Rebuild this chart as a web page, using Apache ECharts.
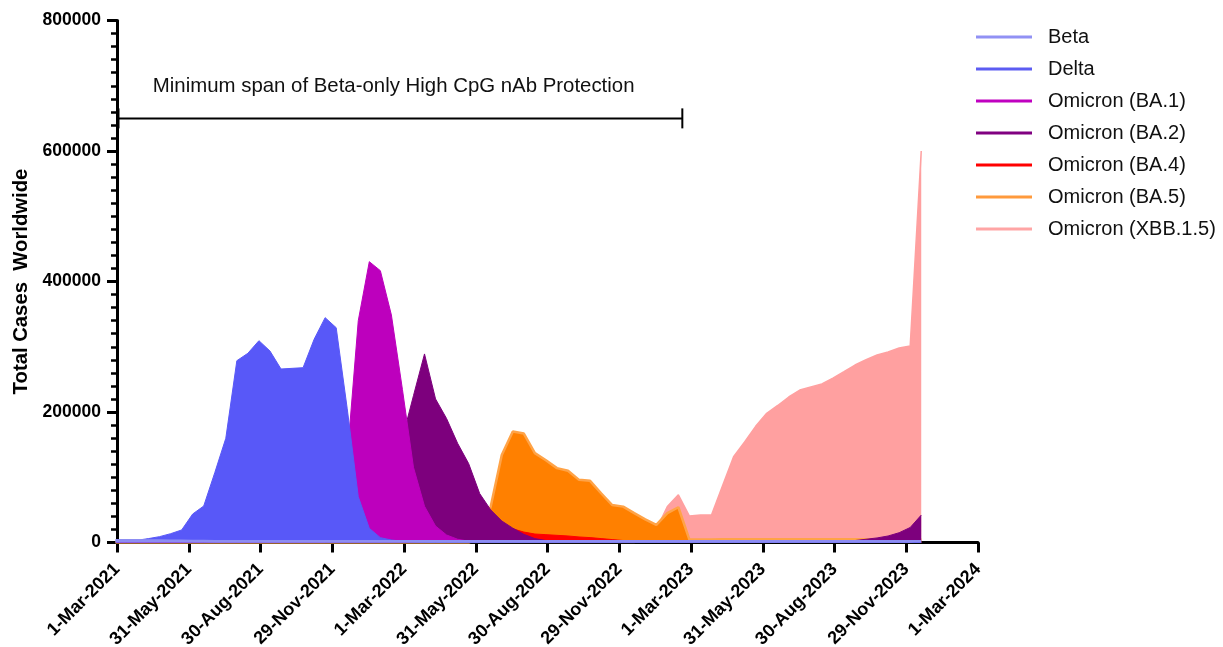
<!DOCTYPE html>
<html>
<head>
<meta charset="utf-8">
<script src="https://cdn.jsdelivr.net/npm/echarts@6/dist/echarts.min.js"></script>
<style>
html,body{margin:0;padding:0;background:#fff;}
#chart{width:1223px;height:647px;}
</style>
</head>
<body>
<div id="chart"></div>
<script>
// ---- Data (biweekly samples, values = total cases worldwide) ----
const firstSampleDay = -2;      // days relative to 1-Mar-2021
const sampleStepDays = 14;
const tickStepDays = 91;
const xTickLabels = ['1-Mar-2021','31-May-2021','30-Aug-2021','29-Nov-2021','1-Mar-2022','31-May-2022',
  '30-Aug-2022','29-Nov-2022','1-Mar-2023','31-May-2023','30-Aug-2023','29-Nov-2023','1-Mar-2024'];
const yTicks = [0, 200000, 400000, 600000, 800000];

const seriesNames = ['Beta','Delta','Omicron (BA.1)','Omicron (BA.2)','Omicron (BA.4)','Omicron (BA.5)','Omicron (XBB.1.5)'];

const beta = [3500,3500,3300,3100,2900,2700,2500,2300,2200,2100,
  2000,2000,2000,2000,2000,2000,2000,2000,2000,2000,
  2000,2000,2000,2000,2000,2000,2000,2000,2000,2000,
  2000,2000,2000,2000,2000,2000,2000,2000,2000,2000,
  2000,2000,2000,2000,2000,2000,2000,2000,2000,2000,
  2000,2000,2000,2000,2000,2000,2000,2000,2000,2000,
  2000,2000,2000,2000,2000,2000,2000,2000,2000,2000,
  2000,2000,2000,2000];
const delta = [3000,3000,3500,6000,9000,13500,19200,43700,55900,107000,
  159700,278600,290000,309300,293500,265900,266900,267900,311400,344600,
  329200,205000,70200,21700,7400,3800,2000,1000,0,0,
  0,0,0,0,0,0,0,0,0,0, 0,0,0,0,0,0,0,0,0,0,
  0,0,0,0,0,0,0,0,0,0, 0,0,0,0,0,0,0,0,0,0, 0,0,0,0];
const ba1 = [0,0,0,0,0,0,0,0,0,0, 0,0,0,0,0,0,0,0,0,0,
  30000,130000,340000,430400,416600,348700,234600,115300,55600,25300,
  11500,5000,2000,1000,500,0,0,0,0,0,
  0,0,0,0,0,0,0,0,0,0, 0,0,0,0,0,0,0,0,0,0, 0,0,0,0,0,0,0,0,0,0, 0,0,0,0];
const ba2 = [0,0,0,0,0,0,0,0,0,0, 0,0,0,0,0,0,0,0,0,0,
  0,0,0,0,0,30000,160000,225000,289000,220000,
  190000,152000,121000,75000,50000,33000,22000,12500,6000,3000,
  1500,800,500,500,500,500,500,500,500,500,
  500,500,500,500,500,500,500,500,500,500,
  500,500,500,500,1000,1500,2000,3000,5000,7000,
  10000,15000,23000,42000];
const ba4 = [0,0,0,0,0,0,0,0,0,0, 0,0,0,0,0,0,0,0,0,0, 0,0,0,0,0,0,0,0,0,0,
  2000,5000,10000,18000,24000,26000,21000,16000,13000,12000,
  11000,10000,8500,7500,6000,4500,3000,2000,1200,800,
  500,500,500,500,500,0,0,0,0,0,
  0,0,0,0,0,0,0,0,0,0, 0,0,0,0];
const ba5 = [0,0,0,0,0,0,0,0,0,0, 0,0,0,0,0,0,0,0,0,0, 0,0,0,0,0,0,0,0,0,0,
  0,0,0,8000,55000,134000,170000,167000,137000,126000,
  114000,110000,96000,94500,75500,57500,55000,45000,35500,27000,
  45000,54000,4500,4500,4500,5000,5000,5000,5000,5000,
  5000,5000,5000,5000,5000,5000,5000,5000,5000,5000,
  5000,5000,5000,5000];
const xbb = [0,0,0,0,0,0,0,0,0,0, 0,0,0,0,0,0,0,0,0,0, 0,0,0,0,0,0,0,0,0,0,
  0,0,0,0,0,0,0,0,0,0, 0,0,0,0,0,0,0,0,8000,20000,
  55000,73000,40600,42100,42100,87000,131500,154000,178000,198000,
  210000,223000,233700,238500,243000,252000,261800,272000,280000,287300,
  292000,298000,301200,600000];

// Annotation: minimum protection span (days from 1-Mar-2021) and its level
const spanStartDay = 0;
const spanEndDay = 717;
const spanLevel = 650000;
const spanLabel = 'Minimum span of Beta-only High CpG nAb Protection';

// ---- Styles ----
const FONT = '"Liberation Sans", Arial, Helvetica, sans-serif';
const styles = {
  'Beta':             {legend:'#9191f4', fill:'#8d8df2', line:'#8d8df2', lw:2.5},
  'Delta':            {legend:'#5c5cf2', fill:'#5858f8', line:'#5858f8', lw:1},
  'Omicron (BA.1)':   {legend:'#c000c0', fill:'#bd00bd', line:'#bd00bd', lw:1},
  'Omicron (BA.2)':   {legend:'#800080', fill:'#7d007d', line:'#7d007d', lw:1},
  'Omicron (BA.4)':   {legend:'#ff0000', fill:'#ff0000', line:'#ff0000', lw:1},
  'Omicron (BA.5)':   {legend:'#ff9a3c', fill:'#ff8000', line:'#ffa347', lw:2.5},
  'Omicron (XBB.1.5)':{legend:'#ffa5a5', fill:'#ffa0a0', line:'#ffa0a0', lw:1.5}
};
const valuesByName = {
  'Beta': beta, 'Delta': delta, 'Omicron (BA.1)': ba1, 'Omicron (BA.2)': ba2,
  'Omicron (BA.4)': ba4, 'Omicron (BA.5)': ba5, 'Omicron (XBB.1.5)': xbb
};

function toPairs(arr){
  return arr.map((v,i)=>[firstSampleDay + i*sampleStepDays, v]);
}

// stacking order: first legend entry on top
const series = seriesNames.map((name, k) => {
  const s = styles[name];
  return {
    name, type:'line', data: toPairs(valuesByName[name]),
    z: 2 + (seriesNames.length - k),
    showSymbol:false, symbol:'none', smooth:false, clip:true,
    itemStyle:{color:s.legend},
    lineStyle:{color:s.line, width:s.lw},
    areaStyle:{color:s.fill, opacity:1},
    emphasis:{disabled:true}, animation:false
  };
});

series.push({
  type:'custom', coordinateSystem:'cartesian2d', silent:true, z:20, clip:false,
  data:[[spanStartDay, spanEndDay, spanLevel]],
  encode:{x:[0,1], y:2},
  renderItem(params, api){
    const a = api.coord([api.value(0), api.value(2)]);
    const b = api.coord([api.value(1), api.value(2)]);
    return {type:'group', children:[
      {type:'line', shape:{x1:a[0],y1:a[1],x2:b[0],y2:b[1]}, style:{stroke:'#000', lineWidth:2}},
      {type:'line', shape:{x1:a[0]+1,y1:a[1]-10,x2:a[0]+1,y2:a[1]+10}, style:{stroke:'#000', lineWidth:3}},
      {type:'line', shape:{x1:b[0],y1:b[1]-10,x2:b[0],y2:b[1]+10}, style:{stroke:'#000', lineWidth:2}},
      {type:'text', style:{text:spanLabel, x:(a[0]+b[0])/2 - 6, y:a[1]-32, align:'center', verticalAlign:'middle',
        font:'20.4px ' + FONT, fill:'#111'}}
    ]};
  }
});

const chart = echarts.init(document.getElementById('chart'), null, {renderer:'canvas'});
chart.setOption({
  animation:false,
  backgroundColor:'#fff',
  grid:{left:117, right:245, top:20.5, bottom:104.5, containLabel:false, outerBoundsMode:'none'},
  legend:{
    orient:'vertical', left:976, top:26, padding:0, itemWidth:56, itemHeight:3, icon:'rect', itemGap:10,
    data: seriesNames, selectedMode:false,
    textStyle:{fontSize:20, color:'#111', fontFamily:FONT, lineHeight:22, padding:[0,0,0,11]}
  },
  xAxis:{
    type:'value', min:0, max:tickStepDays*(xTickLabels.length-1), interval:tickStepDays,
    axisLine:{show:true, onZero:false, lineStyle:{color:'#000', width:3}},
    axisTick:{show:true, length:10, lineStyle:{color:'#000', width:3}},
    splitLine:{show:false},
    axisLabel:{
      rotate:45, margin:24, color:'#000', fontWeight:'bold', fontSize:18, fontFamily:FONT,
      formatter: v => xTickLabels[Math.round(v/tickStepDays)] || ''
    }
  },
  yAxis:{
    type:'value', min:yTicks[0], max:yTicks[yTicks.length-1], interval:yTicks[1]-yTicks[0],
    name:'Total Cases  Worldwide', nameLocation:'middle', nameGap:86,
    nameTextStyle:{fontWeight:'bold', fontSize:20.3, color:'#000', fontFamily:FONT},
    axisLine:{show:true, lineStyle:{color:'#000', width:3}},
    axisTick:{show:true, length:10, lineStyle:{color:'#000', width:3}},
    minorTick:{show:true, splitNumber:10, length:6, lineStyle:{color:'#000', width:2.5}},
    splitLine:{show:false}, minorSplitLine:{show:false},
    axisLabel:{margin:16, color:'#000', fontWeight:'bold', fontSize:17.5, fontFamily:FONT,
      formatter: v => String(v)}
  },
  series
});
</script>
</body>
</html>
